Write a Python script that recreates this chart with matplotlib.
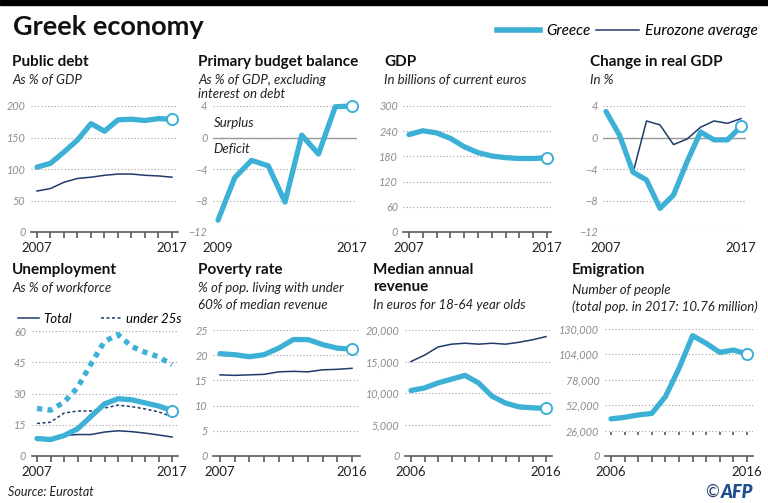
import matplotlib
matplotlib.use('Agg')
import matplotlib.pyplot as plt
from matplotlib.lines import Line2D
from matplotlib.patches import Rectangle
from matplotlib.ticker import FuncFormatter

# ---------------- data ----------------
years_07_17 = list(range(2007, 2018))
years_09_17 = list(range(2009, 2018))
years_07_16 = list(range(2007, 2017))
years_06_16 = list(range(2006, 2017))

debt_greece = [103, 109, 127, 146, 172, 160, 178, 179, 177, 180, 179]
debt_euro = [65, 69, 79, 85, 87, 90, 92, 92, 90, 89, 87]

budget_greece = [-10.5, -5.1, -2.9, -3.6, -8.2, 0.3, -2.1, 3.9, 4.0]

gdp_greece = [232, 241, 236, 223, 203, 189, 181, 177, 175, 175, 177]

realgdp_greece = [3.3, 0.3, -4.4, -5.4, -9.0, -7.3, -3.1, 0.7, -0.3, -0.3, 1.4]
realgdp_euro = [3.1, 0.4, -4.5, 2.1, 1.6, -0.9, -0.2, 1.3, 2.1, 1.8, 2.4]

unemp_greece = [8.4, 7.9, 9.8, 13.0, 19.0, 25.0, 27.5, 27.0, 25.5, 24.0, 21.8]
unemp_euro = [7.8, 7.6, 9.8, 10.3, 10.3, 11.5, 12.1, 11.7, 11.0, 10.1, 9.1]
unemp_greece_u25 = [22.8, 22.0, 25.8, 32.8, 44.2, 55.0, 58.3, 52.6, 49.8, 47.6, 43.8]
unemp_euro_u25 = [15.6, 16.2, 20.6, 21.6, 21.6, 23.0, 24.4, 23.7, 22.6, 21.2, 18.9]

poverty_greece = [20.3, 20.1, 19.7, 20.1, 21.4, 23.1, 23.1, 22.1, 21.4, 21.2]
poverty_euro = [16.1, 16.0, 16.1, 16.2, 16.7, 16.8, 16.7, 17.1, 17.2, 17.4]

median_greece = [10400, 10800, 11600, 12200, 12800, 11600, 9500, 8400, 7800, 7650, 7550]
median_euro = [15000, 16000, 17300, 17750, 17900, 17750, 17900, 17750, 18050, 18450, 18950]

emig_greece = [38000, 39600, 42000, 43600, 60700, 89700, 123200, 115300, 106100, 108500, 104400]

# ---------------- style ----------------
W, H = 768, 503
GREECE = '#3cb0d5'
EURO = '#1f3b6b'
GRID = '#a0a0a0'
TICKC = '#8c8c8c'
AXC = '#5a5a5a'
FONT = 'Lato'
plt.rcParams['font.family'] = [FONT, 'DejaVu Sans']

fig = plt.figure(figsize=(7.68, 5.03), dpi=100)
fig.patch.set_facecolor('white')
fig.patches.append(Rectangle((0, 1 - 5 / H), 1, 5 / H, transform=fig.transFigure,
                             color='black', zorder=0))


def make_ax(xa, xb, pxa, pxb, xlim, ya, yb, pya, pyb, ylim):
    sx = (pxb - pxa) / (xb - xa)
    left = pxa + (xlim[0] - xa) * sx
    right = pxa + (xlim[1] - xa) * sx
    sy = (pyb - pya) / (yb - ya)
    bot = pya + (ylim[0] - ya) * sy
    top = pya + (ylim[1] - ya) * sy
    ax = fig.add_axes([left / W, 1 - bot / H, (right - left) / W, (bot - top) / H])
    ax.set_xlim(*xlim)
    ax.set_ylim(*ylim)
    ax.patch.set_alpha(0)
    for s in ['top', 'right', 'left']:
        ax.spines[s].set_visible(False)
    return ax


def style(ax, years, yticks, fmt=None, axis=True, zero=False):
    ax.set_yticks(yticks)
    ax.yaxis.grid(True, linestyle=(0, (1, 2)), color=GRID, linewidth=0.8)
    ax.set_axisbelow(True)
    ax.tick_params(axis='y', length=0, pad=4, labelsize=7.8, labelcolor=TICKC)
    if fmt:
        ax.yaxis.set_major_formatter(FuncFormatter(fmt))
    for lab in ax.get_yticklabels():
        lab.set_fontstyle('italic')
    ax.set_xticks(years)
    ax.set_xticklabels([str(y) if y in (years[0], years[-1]) else '' for y in years])
    if axis:
        ax.spines['bottom'].set_color(AXC)
        ax.spines['bottom'].set_linewidth(1.2)
        ax.tick_params(axis='x', length=4, width=1.2, color=AXC, pad=3.5,
                       labelsize=9.5, labelcolor='#222222')
    else:
        ax.spines['bottom'].set_visible(False)
        ax.tick_params(axis='x', length=0, pad=7, labelsize=9.5, labelcolor='#222222')
    if zero:
        ax.axhline(0, color='#999999', lw=1.0, zorder=1)


def gline(ax, x, y, ls='-', marker=True):
    ax.plot(x, y, color=GREECE, lw=3.8, ls=ls, solid_capstyle='round',
            solid_joinstyle='round', clip_on=False, zorder=4)
    if marker:
        ax.plot(x[-1], y[-1], 'o', ms=8, mfc='white', mec=GREECE, mew=1.4,
                clip_on=False, zorder=6)


def eline(ax, x, y, ls='-'):
    ax.plot(x, y, color=EURO, lw=1.1, ls=ls, clip_on=False, zorder=3)


def titles(x, y, title, subs, sub_y, step):
    fig.text(x / W, 1 - y / H, title, fontsize=11, fontweight='bold', va='center',
             color='#111111', linespacing=1.25)
    yy = sub_y
    for s in subs:
        fig.text(x / W, 1 - yy / H, s, fontsize=9.5, style='italic', va='center',
                 color='#222222')
        yy += step


comma = lambda v, p: f'{int(v):,}'

# ---- Public debt ----
ax = make_ax(2007, 2017, 37, 172, (2006.55, 2017.45), 0, 200, 232, 106, (0, 200))
style(ax, years_07_17, [0, 50, 100, 150, 200])
eline(ax, years_07_17, debt_euro)
gline(ax, years_07_17, debt_greece)
titles(12, 62, 'Public debt', ['As % of GDP'], 80, 13.5)

# ---- Primary budget balance ----
ax = make_ax(2009, 2017, 218, 352, (2008.7, 2017.3), -12, 4, 232, 106, (-12, 4))
style(ax, years_09_17, [-12, -8, -4, 0, 4], axis=False, zero=True)
gline(ax, years_09_17, budget_greece)
ax.text(2008.75, 1.8, 'Surplus', style='italic', fontsize=9.5, va='center', color='#222222')
ax.text(2008.75, -1.5, 'Deficit', style='italic', fontsize=9.5, va='center', color='#222222')
titles(198, 62, 'Primary budget balance', ['As % of GDP, excluding', 'interest on debt'],
       80, 13.5)

# ---- GDP ----
ax = make_ax(2007, 2017, 409, 547, (2006.6, 2017.3), 0, 300, 232, 106, (0, 300))
style(ax, years_07_17, [0, 60, 120, 180, 240, 300])
gline(ax, years_07_17, gdp_greece)
titles(384, 62, 'GDP', ['In billions of current euros'], 80, 13.5)

# ---- Change in real GDP ----
ax = make_ax(2007, 2017, 606, 741, (2006.8, 2017.4), -12, 4, 232, 106, (-12, 4))
style(ax, years_07_17, [-12, -8, -4, 0, 4], axis=False, zero=True)
eline(ax, years_07_17, realgdp_euro)
gline(ax, years_07_17, realgdp_greece)
titles(590, 62, 'Change in real GDP', ['In %'], 80, 13.5)

# ---- Unemployment ----
ax = make_ax(2007, 2017, 37, 172, (2006.6, 2017.45), 0, 60, 456, 331, (0, 60))
style(ax, years_07_17, [0, 15, 30, 45, 60])
eline(ax, years_07_17, unemp_euro)
eline(ax, years_07_17, unemp_euro_u25, ls=(0, (2, 1.6)))
ax.plot(years_07_17, unemp_greece_u25, color=GREECE, lw=3.8, ls=(0, (1, 1)),
        dash_capstyle='butt', clip_on=False, zorder=4)
gline(ax, years_07_17, unemp_greece)
leg = ax.legend([Line2D([], [], color=EURO, lw=1.1),
                 Line2D([], [], color=EURO, lw=1.1, ls=(0, (2, 1.6)))],
                ['Total', 'under 25s'], loc='center left',
                bbox_to_anchor=(18 / W, 1 - 319 / H), bbox_transform=fig.transFigure,
                ncol=2, frameon=False, handlelength=1.6, handletextpad=0.3,
                columnspacing=2.2, borderaxespad=0, borderpad=0,
                prop={'style': 'italic', 'size': 9.5})
titles(12, 270, 'Unemployment', ['As % of workforce'], 288, 17)

# ---- Poverty rate ----
ax = make_ax(2007, 2016, 220, 352, (2006.55, 2016.55), 0, 25, 456, 330, (0, 25))
style(ax, years_07_16, [0, 5, 10, 15, 20, 25])
eline(ax, years_07_16, poverty_euro)
gline(ax, years_07_16, poverty_greece)
titles(198, 270, 'Poverty rate', ['% of pop. living with under', '60% of median revenue'],
       288, 17)

# ---- Median annual revenue ----
ax = make_ax(2006, 2016, 411, 546, (2005.55, 2016.45), 0, 20000, 456, 330, (0, 20000))
style(ax, years_06_16, [0, 5000, 10000, 15000, 20000], fmt=comma)
eline(ax, years_06_16, median_euro)
gline(ax, years_06_16, median_greece)
titles(373, 270, 'Median annual', [], 0, 0)
titles(373, 287, 'revenue', ['In euros for 18-64 year olds'], 305, 17)

# ---- Emigration ----
ax = make_ax(2006, 2016, 611, 747, (2005.55, 2016.45), 0, 130000, 456, 329, (0, 130000))
style(ax, years_06_16, [0, 26000, 52000, 78000, 104000, 130000], fmt=comma)
ax.vlines(years_06_16, 26000 - 5000, 26000 - 1500, color=AXC, lw=1.2)
gline(ax, years_06_16, emig_greece)
titles(572, 270, 'Emigration', ['Number of people', '(total pop. in 2017: 10.76 million)'],
       290, 17)

# ---- header / footer ----
fig.text(13 / W, 1 - 27 / H, 'Greek economy', fontsize=19.5, fontweight='bold',
         va='center', color='#111111')
fig.legend([Line2D([], [], color=GREECE, lw=4), Line2D([], [], color=EURO, lw=1.1)],
           ['Greece', 'Eurozone average'], loc='center right',
           bbox_to_anchor=(758 / W, 1 - 31 / H), ncol=2, frameon=False,
           handlelength=2.8, handletextpad=0.4, columnspacing=0.4,
           borderaxespad=0, borderpad=0,
           prop={'style': 'italic', 'size': 11})
fig.text(8 / W, 1 - 492 / H, 'Source: Eurostat', fontsize=9, style='italic',
         va='center', color='#222222')
fig.text(719 / W, 1 - 492 / H, '©', fontsize=12, va='center', ha='right', color='#1f3b6b')
fig.text(721 / W, 1 - 492 / H, 'AFP', fontsize=13, va='center', ha='left',
         fontweight='heavy', style='italic', color='#1f4f8f')

fig.savefig('out.png', dpi=100)
